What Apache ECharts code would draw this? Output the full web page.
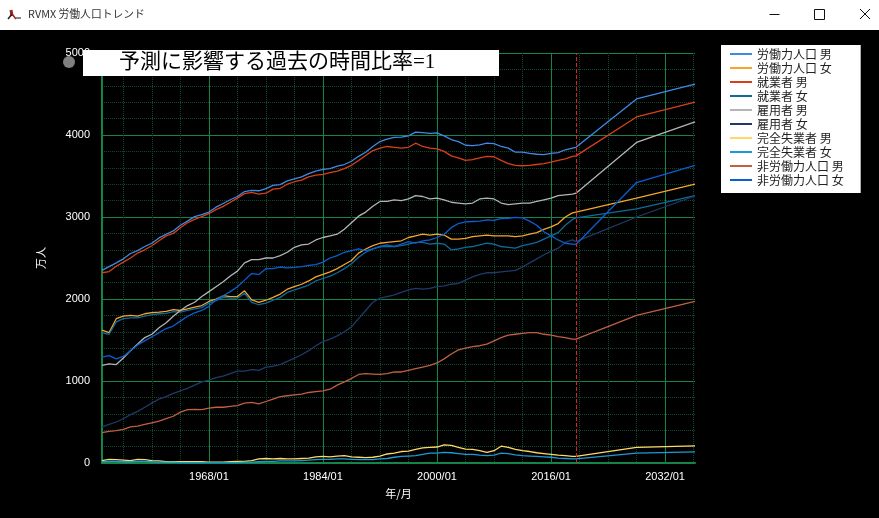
<!DOCTYPE html>
<html><head><meta charset="utf-8">
<style>html,body{margin:0;padding:0;background:#000}#c{width:879px;height:518px}</style>
<script src="https://cdn.jsdelivr.net/npm/echarts@6/dist/echarts.min.js"></script>
</head><body><div id="c"></div>
<script>
const years=[1953,1954,1955,1956,1957,1958,1959,
1960,1961,1962,1963,1964,1965,1966,1967,1968,1969,
1970,1971,1972,1973,1974,1975,1976,1977,1978,1979,
1980,1981,1982,1983,1984,1985,1986,1987,1988,1989,
1990,1991,1992,1993,1994,1995,1996,1997,1998,1999,
2000,2001,2002,2003,2004,2005,2006,2007,2008,2009,
2010,2011,2012,2013,2014,2015,2016,2017,2018,2019,
2019.5,2028,2036.2];
const majorYears=[1968,1984,2000,2016,2032];
const minorYears=[1956,1960,1964,1972,1976,1980,1988,1992,1996,2004,2008,2012,2020,2024,2028,2036];
const laborM=[2350,2395,2440,2490,2555,2590,2640,
2680,2745,2790,2830,2900,2950,3005,3030,3060,3120,
3165,3210,3250,3310,3325,3320,3345,3385,3395,3440,
3465,3490,3530,3560,3580,3590,3620,3640,3680,3740,
3790,3860,3920,3950,3970,3975,3990,4035,4030,4020,
4025,3990,3945,3920,3875,3870,3880,3900,3895,3860,
3840,3790,3790,3775,3765,3760,3775,3785,3820,3840,
3850,4440,4620];
const laborF=[1620,1590,1760,1790,1800,1790,1820,
1835,1840,1850,1870,1860,1880,1900,1920,1970,2000,
2040,2030,2030,2100,1990,1960,1985,2020,2060,2120,
2150,2180,2220,2270,2300,2330,2370,2420,2470,2560,
2610,2650,2680,2690,2700,2710,2750,2770,2790,2780,
2790,2780,2730,2730,2740,2760,2770,2780,2770,2770,
2770,2760,2770,2790,2810,2850,2880,2920,3000,3050,
3060,3230,3400];
const empM=[2320,2335,2400,2450,2500,2560,2600,
2650,2710,2770,2800,2870,2930,2970,3005,3040,3090,
3130,3180,3230,3285,3300,3280,3290,3340,3350,3400,
3430,3450,3490,3510,3520,3540,3560,3590,3630,3690,
3750,3810,3840,3860,3850,3840,3850,3900,3860,3840,
3830,3800,3745,3720,3690,3700,3720,3740,3735,3690,
3650,3630,3625,3630,3640,3650,3670,3690,3710,3740,
3745,4220,4400];
const empF=[1590,1570,1720,1760,1770,1770,1790,
1810,1820,1825,1845,1840,1860,1880,1895,1950,1980,
2020,2010,2010,2070,1960,1930,1950,1985,2020,2080,
2110,2140,2170,2220,2250,2280,2320,2370,2430,2510,
2570,2610,2640,2640,2640,2650,2670,2690,2690,2670,
2680,2670,2600,2610,2630,2640,2660,2680,2670,2640,
2630,2620,2650,2670,2690,2730,2770,2810,2900,2970,
2990,3100,3260];
const wageM=[1190,1210,1200,1280,1370,1450,1530,
1570,1650,1710,1790,1860,1920,1960,2030,2090,2150,
2210,2280,2340,2440,2480,2480,2500,2500,2530,2570,
2630,2660,2670,2720,2750,2770,2790,2850,2930,3010,
3060,3130,3190,3190,3210,3200,3220,3260,3250,3220,
3230,3210,3180,3170,3160,3170,3220,3230,3220,3170,
3150,3160,3170,3170,3190,3210,3230,3260,3270,3280,
3290,3910,4160];
const wageF=[440,470,500,540,590,630,680,
730,780,810,850,880,910,950,990,1010,1040,
1060,1090,1120,1120,1140,1130,1170,1180,1200,1240,
1280,1320,1370,1430,1480,1510,1550,1600,1660,1760,
1860,1960,2010,2030,2050,2080,2110,2130,2120,2130,
2150,2160,2180,2190,2230,2270,2300,2320,2320,2330,
2340,2350,2390,2440,2490,2540,2580,2620,2690,2720,
2700,3000,3256];
const unempM=[30,45,40,35,30,45,40,
30,25,15,15,15,15,15,15,10,10,
10,15,20,20,30,50,55,50,55,50,
50,55,60,75,80,75,85,90,75,70,
65,70,85,110,120,140,145,165,185,190,
195,220,215,190,170,165,150,130,150,205,
190,165,150,140,125,115,105,95,90,80,
80,190,210];
const unempF=[15,20,20,15,15,20,20,
15,10,10,10,5,5,5,5,5,5,
5,5,5,10,10,15,20,20,25,25,
25,30,35,40,45,45,50,50,45,40,
40,40,50,55,70,80,85,90,105,120,
120,130,125,115,105,105,95,90,95,120,
115,100,90,85,80,75,70,60,55,50,
50,120,135];
const nonM=[370,385,395,410,440,450,470,
490,510,540,570,620,650,655,650,670,680,
680,690,700,730,740,720,750,780,810,820,
830,840,860,870,880,900,950,990,1030,1080,
1090,1085,1080,1090,1110,1110,1130,1150,1170,1190,
1220,1270,1330,1380,1400,1420,1430,1450,1490,1530,
1560,1570,1580,1590,1590,1570,1560,1540,1530,1510,
1510,1800,1970];
const nonF=[1290,1310,1270,1300,1370,1440,1490,
1540,1590,1640,1670,1730,1790,1830,1860,1910,1990,
2040,2090,2150,2230,2310,2300,2370,2370,2390,2380,
2385,2395,2410,2420,2450,2500,2530,2570,2590,2610,
2590,2610,2640,2660,2640,2670,2700,2680,2710,2720,
2750,2790,2870,2920,2940,2945,2950,2965,2960,2980,
2985,2995,2990,2950,2900,2820,2770,2720,2680,2670,
2665,3420,3630];
const seriesNames=['労働力人口 男','労働力人口 女','就業者 男','就業者 女','雇用者 男','雇用者 女','完全失業者 男','完全失業者 女','非労働力人口 男','非労働力人口 女'];
const seriesValues=[laborM,laborF,empM,empF,wageM,wageF,unempM,unempF,nonM,nonF];
const seriesColors=['#3f8ae6','#f5a52c','#d9401a','#0f6a9c','#b4b4b4','#1f3a68','#ffd966','#1c9ad6','#c05f42','#0a5fd0'];
const forecastStart=2019.5;

const green='#14844a', dim='#0b4a28', cjk='"Noto Sans CJK JP","Liberation Sans",sans-serif', latin='"Liberation Sans","Noto Sans CJK JP",sans-serif';
const chart=echarts.init(document.getElementById('c'),null,{renderer:'canvas'});
const series=seriesNames.map((n,i)=>({
  name:n,type:'line',xAxisIndex:0,yAxisIndex:0,showSymbol:false,symbol:'none',smooth:false,animation:false,
  lineStyle:{color:seriesColors[i],width:1.3},itemStyle:{color:seriesColors[i]},
  data:years.map((y,k)=>[y,seriesValues[i][k]]),
  markLine:i===0?{silent:true,symbol:'none',label:{show:false},animation:false,
    lineStyle:{color:'#e02020',type:'dashed',width:1},data:[{xAxis:forecastStart}]}:undefined
}));
chart.setOption({
  animation:false,backgroundColor:'#000',
  grid:{left:102,right:184,top:53,bottom:55,containLabel:false},
  legend:{orient:'vertical',left:721,top:45,padding:[2,17,6,9],itemGap:0,itemWidth:22,itemHeight:2,
    backgroundColor:'#fff',icon:'rect',selectedMode:false,data:seriesNames,
    textStyle:{color:'#222',fontSize:12,lineHeight:14,fontFamily:cjk}},
  xAxis:[
   {type:'value',min:1953,max:2036.2,axisLine:{show:false},axisTick:{show:false,customValues:minorYears},axisLabel:{show:false},
    splitLine:{show:true,lineStyle:{color:dim,type:'dotted',width:1}}},
   {type:'value',position:'bottom',min:1953,max:2036.2,
    axisLine:{show:true,onZero:false,lineStyle:{color:green,width:2}},
    axisTick:{show:false,customValues:majorYears},
    axisLabel:{show:true,color:'#fff',fontSize:11,fontFamily:latin,margin:8,customValues:majorYears,
      formatter:v=>String(v)+'/01'},
    splitLine:{show:true,lineStyle:{color:green,width:1}},
    name:'年/月',nameLocation:'middle',nameGap:25,nameTextStyle:{color:'#fff',fontSize:11,fontFamily:cjk}}
  ],
  yAxis:[{type:'value',min:0,max:5000,interval:1000,
    axisLine:{show:true,onZero:false,lineStyle:{color:green,width:2}},axisTick:{show:false},
    axisLabel:{color:'#fff',fontSize:11,fontFamily:latin,margin:12,formatter:v=>String(v)},
    splitLine:{show:true,lineStyle:{color:green,width:1}},
    minorTick:{show:false,splitNumber:5},
    minorSplitLine:{show:true,lineStyle:{color:dim,type:'dotted',width:1}},
    name:'万人',nameLocation:'middle',nameGap:56,nameRotate:90,nameTextStyle:{color:'#fff',fontSize:11,fontFamily:cjk}}],
  series,
  graphic:[
    {type:'rect',z:100,shape:{x:0,y:0,width:879,height:30},style:{fill:'#fff'}},
    {type:'text',z:101,x:28,y:9,style:{text:'RVMX 労働人口トレンド',fill:'#333',font:'10.8px '+cjk}},
    {type:'line',z:101,shape:{x1:11,y1:10,x2:12,y2:16},style:{stroke:'#a02020',lineWidth:3}},
    {type:'line',z:101,shape:{x1:8,y1:19,x2:12,y2:14},style:{stroke:'#222',lineWidth:1.5}},
    {type:'line',z:101,shape:{x1:16,y1:19,x2:12,y2:14},style:{stroke:'#a02020',lineWidth:1.5}},
    {type:'line',z:101,shape:{x1:16,y1:18,x2:21,y2:18},style:{stroke:'#888',lineWidth:2}},
    {type:'line',z:101,shape:{x1:769.5,y1:14.5,x2:779.5,y2:14.5},style:{stroke:'#111',lineWidth:1}},
    {type:'rect',z:101,shape:{x:814.5,y:9.5,width:10,height:10},style:{fill:'none',stroke:'#111',lineWidth:1}},
    {type:'line',z:101,shape:{x1:860,y1:9,x2:870,y2:19},style:{stroke:'#111',lineWidth:1}},
    {type:'line',z:101,shape:{x1:870,y1:9,x2:860,y2:19},style:{stroke:'#111',lineWidth:1}},
    {type:'rect',z:100,shape:{x:83,y:50,width:416,height:26},style:{fill:'#fff'}},
    {type:'text',z:101,x:119,y:52,style:{text:'予測に影響する過去の時間比率=1',fill:'#000',font:'21px "Liberation Serif","Noto Sans CJK JP",serif'}},
    {type:'circle',z:101,shape:{cx:69,cy:62,r:6},style:{fill:'#808080'}}
  ]
});
</script></body></html>
